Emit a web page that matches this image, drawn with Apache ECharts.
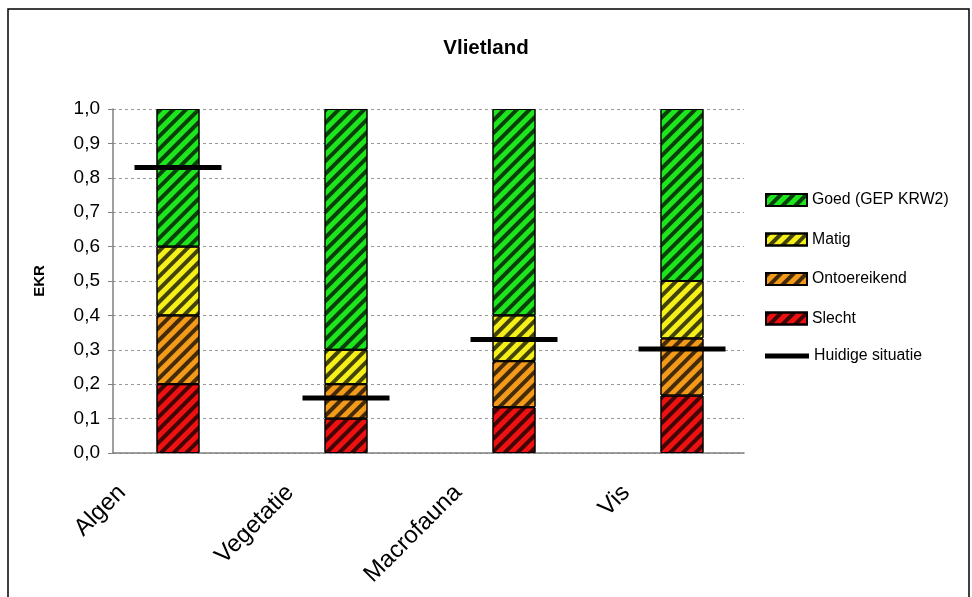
<!DOCTYPE html>
<html>
<head>
<meta charset="utf-8">
<script src="https://cdn.jsdelivr.net/npm/echarts@6/dist/echarts.min.js"></script>
<style>
html,body{margin:0;padding:0;background:#fff;}
#c{width:972px;height:597px;}
</style>
</head>
<body>
<div id="c"></div>
<script>
const categories = ['Algen', 'Vegetatie', 'Macrofauna', 'Vis'];
const slecht = [0.2, 0.1, 0.133, 0.167];
const ontoereikend = [0.2, 0.1, 0.134, 0.166];
const matig = [0.2, 0.1, 0.133, 0.167];
const goed = [0.4, 0.7, 0.6, 0.5];
const huidige = [0.83, 0.16, 0.33, 0.302];
const yTicks = [0, 0.1, 0.2, 0.3, 0.4, 0.5, 0.6, 0.7, 0.8, 0.9, 1.0];

const FONT = '"Liberation Sans", Arial, sans-serif';
const chart = echarts.init(document.getElementById('c'));

function decal() {
  return {
    symbol: 'rect',
    symbolSize: 1,
    dashArrayX: [1, 0],
    dashArrayY: [3.5, 4.5],
    rotation: -Math.PI / 4,
    color: 'rgba(0,0,0,0.72)'
  };
}
function barSeries(name, data, color) {
  return {
    name: name,
    type: 'bar',
    stack: 'ekr',
    xAxisIndex: 1,
    yAxisIndex: 1,
    barWidth: 43,
    data: data,
    itemStyle: { color: color, borderColor: '#000', borderWidth: 1, decal: decal() },
    emphasis: { disabled: true }
  };
}

const option = {
  animation: false,
  backgroundColor: '#fff',
  title: {
    text: 'Vlietland',
    left: 'center',
    top: 33,
    textStyle: { fontFamily: FONT, fontSize: 20.5, fontWeight: 'bold', color: '#000' }
  },
  graphic: [
    { type: 'rect', shape: { x: 8, y: 9, width: 961, height: 620 }, style: { fill: 'none', stroke: '#000', lineWidth: 1.5 }, silent: true },
    { type: 'text', x: 40, y: 281, rotation: Math.PI / 2, style: { text: 'EKR', fontFamily: FONT, fontSize: 15, fontWeight: 'bold', fill: '#000', align: 'center', verticalAlign: 'middle' } }
  ],
  legend: [
    {
      orient: 'vertical', left: 765, top: 192, padding: 0,
      itemWidth: 41, itemHeight: 12, itemGap: 23.5,
      textStyle: { fontFamily: FONT, fontSize: 15.8, color: '#000' },
      data: [
        { name: 'Goed (GEP KRW2)', icon: 'rect' },
        { name: 'Matig', icon: 'rect' },
        { name: 'Ontoereikend', icon: 'rect' },
        { name: 'Slecht', icon: 'rect' }
      ],
      selectedMode: false
    },
    {
      orient: 'vertical', left: 765, top: 348, padding: 0,
      itemWidth: 44, itemHeight: 5,
      textStyle: { fontFamily: FONT, fontSize: 15.8, color: '#000' },
      data: [{ name: 'Huidige situatie', icon: 'rect' }],
      selectedMode: false
    }
  ],
  grid: [
    { left: 113, right: 228, top: 109, bottom: 144 },
    { left: 94, right: 206, top: 109, bottom: 144 },
    { left: 38, right: 262, top: 109, bottom: 144 }
  ],
  xAxis: [
    { type: 'category', gridIndex: 0, data: categories,
      axisLine: { lineStyle: { color: '#808080', width: 1.5 } }, axisTick: { show: false }, axisLabel: { show: false } },
    { type: 'category', gridIndex: 1, data: categories,
      axisLine: { show: false }, axisTick: { show: false }, axisLabel: { show: false } },
    { type: 'category', gridIndex: 2, data: categories,
      axisLine: { show: false }, axisTick: { show: false },
      axisLabel: { rotate: 45, margin: 36, interval: 0, fontFamily: FONT, fontSize: 24, color: '#000' } }
  ],
  yAxis: [
    { type: 'value', gridIndex: 0, min: 0, max: 1, interval: 0.1,
      axisLine: { show: true, lineStyle: { color: '#808080', width: 1.5 } },
      axisTick: { show: true, inside: false, length: 5, lineStyle: { color: '#808080' } },
      axisLabel: { margin: 13, fontFamily: FONT, fontSize: 19, color: '#000',
        formatter: function (v) { return v.toFixed(1).replace('.', ','); } },
      splitLine: { show: true, lineStyle: { color: '#999', type: [3, 3], width: 1 } }
    },
    { type: 'value', gridIndex: 1, min: 0, max: 1, show: false, splitLine: { show: false } },
    { type: 'value', gridIndex: 2, min: 0, max: 1, show: false, splitLine: { show: false } }
  ],
  series: [
    barSeries('Slecht', slecht, '#ee1111'),
    barSeries('Ontoereikend', ontoereikend, '#f39a1a'),
    barSeries('Matig', matig, '#f5f01a'),
    barSeries('Goed (GEP KRW2)', goed, '#1ee61e'),
    {
      name: 'Huidige situatie',
      type: 'scatter',
      xAxisIndex: 1,
      yAxisIndex: 1,
      symbol: 'rect',
      symbolSize: [87, 5],
      z: 5,
      itemStyle: { color: '#000', opacity: 1 },
      data: huidige,
      emphasis: { disabled: true }
    },
    { type: 'bar', xAxisIndex: 2, yAxisIndex: 2, data: [0, 0, 0, 0], silent: true }
  ]
};
chart.setOption(option);
</script>
</body>
</html>
